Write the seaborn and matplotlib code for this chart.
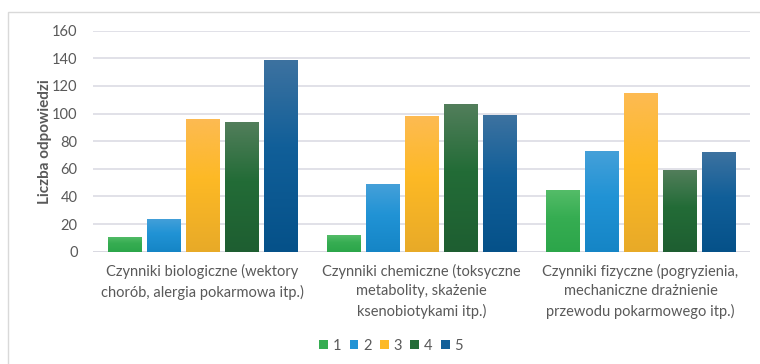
import numpy as np
import pandas as pd
import matplotlib
matplotlib.use("Agg")
import matplotlib.pyplot as plt
from matplotlib.colors import LinearSegmentedColormap
from matplotlib.patches import Rectangle, Patch
import seaborn as sns

# Survey answers: number of responses for each rating (1-5) per factor group
categories = [
    "Czynniki biologiczne (wektory\nchorób, alergia pokarmowa itp.)",
    "Czynniki chemiczne (toksyczne\nmetabolity, skażenie\nksenobiotykami itp.)",
    "Czynniki fizyczne (pogryzienia,\nmechaniczne drażnienie\nprzewodu pokarmowego itp.)",
]
ratings = ["1", "2", "3", "4", "5"]
rating_1 = [11, 12, 45]
rating_2 = [24, 49, 73]
rating_3 = [96, 98, 115]
rating_4 = [94, 107, 59]
rating_5 = [139, 99, 72]
y_ticks = [0, 20, 40, 60, 80, 100, 120, 140, 160]
y_label = "Liczba odpowiedzi"

# Gradient stops per series: top, middle, bottom
gradients = {
    "1": ["#55bd69", "#36ad52", "#2ca64a"],
    "2": ["#45a0d9", "#2193d5", "#1585c6"],
    "3": ["#fdbb52", "#fdb925", "#e8aa28"],
    "4": ["#527e5b", "#236c37", "#1e5e31"],
    "5": ["#3d72a0", "#115f99", "#055189"],
}

values = [rating_1, rating_2, rating_3, rating_4, rating_5]
df = pd.DataFrame(
    [(c, r, v[i]) for r, v in zip(ratings, values) for i, c in enumerate(categories)],
    columns=["kategoria", "ocena", "liczba"],
)

sns.set_theme(style="white")
plt.rcParams["font.family"] = ["Lato", "DejaVu Sans"]
text_color = "#595959"
grid_color = "#d9d9e1"

fig = plt.figure(figsize=(7.6, 3.64), dpi=100)
ax = fig.add_axes([93 / 760, 112.3 / 364, 657 / 760, 221 / 364])

palette = [gradients[r][1] for r in ratings]
sns.barplot(
    data=df, x="kategoria", y="liczba", hue="ocena",
    order=categories, hue_order=ratings, palette=palette,
    width=0.89, gap=0.15, legend=False, ax=ax, zorder=3,
    saturation=1,
)

# Vertical gradient fill clipped to each bar
bars = list(ax.patches)
for idx, bar in enumerate(bars):
    r = ratings[idx // len(categories)]
    cmap = LinearSegmentedColormap.from_list("g" + r, [(0, gradients[r][2]), (0.55, gradients[r][1]), (1, gradients[r][0])])
    x0, y0 = bar.get_x(), bar.get_y()
    w, h = bar.get_width(), bar.get_height()
    grad = np.linspace(0, 1, 256).reshape(-1, 1)
    im = ax.imshow(grad, cmap=cmap, origin="lower", aspect="auto",
                   extent=[x0, x0 + w, y0, y0 + h], zorder=4, interpolation="bilinear")
    im.set_clip_path(bar)
    bar.set_edgecolor(gradients[r][0])
    bar.set_linewidth(0.6)

ax.set_xlim(-0.5, 2.5)
ax.set_ylim(0, 160)
ax.set_yticks(y_ticks)
ax.yaxis.grid(True, color=grid_color, linewidth=1.1, zorder=0)
ax.xaxis.grid(False)
for s in ax.spines.values():
    s.set_visible(False)
ax.axhline(0, color=grid_color, linewidth=1.3, zorder=2)

ax.tick_params(axis="y", length=0, pad=11, labelsize=10.5, labelcolor=text_color)
ax.tick_params(axis="x", length=0, pad=9, labelsize=10.5, labelcolor=text_color)
for lbl in ax.get_xticklabels():
    lbl.set_linespacing(1.45)
ax.set_xlabel("")
ax.set_ylabel(y_label, fontsize=11, fontweight="bold", color=text_color, labelpad=0.5)

handles = [Patch(facecolor=gradients[r][1], edgecolor="none") for r in ratings]
fig.legend(handles, ratings, loc="center", bbox_to_anchor=(391 / 760, 18 / 364),
           ncol=5, frameon=False, fontsize=10.5, labelcolor=text_color,
           handlelength=0.6, handleheight=0.6, handletextpad=0.3, columnspacing=0.6)

# Chart area frame
fig.patches.append(Rectangle((8 / 760, -0.05), 1.2, 1 - 12 / 364 + 0.05,
                             transform=fig.transFigure, fill=False,
                             edgecolor="#d9d9d9", linewidth=1.0))

fig.savefig("out.png", dpi=100)
